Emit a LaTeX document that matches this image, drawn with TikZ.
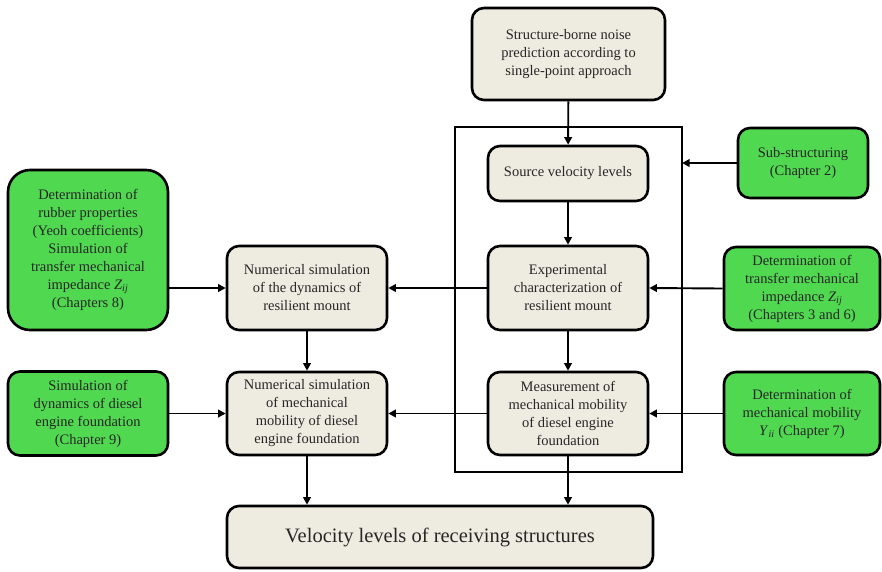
\documentclass[tikz,border=0pt]{standalone}
\usepackage{fontspec}
\setmainfont{Liberation Serif}
\usetikzlibrary{arrows.meta}
\definecolor{beige}{HTML}{EEECE1}
\definecolor{lgreen}{HTML}{50D850}
\newcommand{\Zij}{\textit{Z}\textsubscript{\textit{ij}}}
\newcommand{\Yii}{\textit{Y}\textsubscript{\textit{ii}}}
\begin{document}
\begin{tikzpicture}[x=1pt,y=-1pt,
  box/.style={draw=black,line width=2.6pt,rounded corners=12pt,fill=beige,align=center,
    inner sep=2pt,font=\fontsize{14.5}{18}\selectfont,text=black!85},
  gbox/.style={box,fill=lgreen},
  arr/.style={line width=1.9pt,-{Triangle[length=7.5pt,width=7.5pt]}}]
\useasboundingbox (0,0) rectangle (882,571);
\draw[line width=2.2pt] (455,127) rectangle (682,472);
\coordinate (frameR) at (682,163);
\node[box,minimum width=193pt,minimum height=92pt] (top) at (568.5,54) {Structure-borne noise\\prediction according to\\single-point approach};
\node[box,minimum width=160pt,minimum height=55pt] (src) at (568,173.5) {Source velocity levels};
\node[box,minimum width=160pt,minimum height=84pt] (exp) at (568,288) {Experimental\\characterization of\\resilient mount};
\node[box,minimum width=160pt,minimum height=83pt] (meas) at (568,413.5) {Measurement of\\mechanical mobility\\of diesel engine\\foundation};
\node[box,minimum width=160pt,minimum height=84pt] (num1) at (307,288) {Numerical simulation\\of the dynamics of\\resilient mount};
\node[box,minimum width=160pt,minimum height=83pt] (num2) at (307,413.5) {Numerical simulation\\of mechanical\\mobility of diesel\\engine foundation};
\node[box,minimum width=426pt,minimum height=62pt,font=\fontsize{20.5}{24}\selectfont] (bot) at (440,537) {Velocity levels of receiving structures};
\node[gbox,minimum width=160pt,minimum height=160pt,rounded corners=22pt] (gl1) at (88,250) {Determination of\\rubber properties\\(Yeoh coefficients)\\Simulation of\\transfer mechanical\\impedance \Zij\\(Chapters 8)};
\node[gbox,minimum width=160pt,minimum height=84pt] (gl2) at (88,413.5) {Simulation of\\dynamics of diesel\\engine foundation\\(Chapter 9)};
\node[gbox,minimum width=130pt,minimum height=70pt] (gr1) at (803,163) {Sub-structuring\\(Chapter 2)};
\node[gbox,minimum width=156pt,minimum height=83pt] (gr2) at (802,288.5) {Determination of\\transfer mechanical\\impedance \Zij\\(Chapters 3 and 6)};
\node[gbox,minimum width=156pt,minimum height=83pt] (gr3) at (802,413.5) {Determination of\\mechanical mobility\\\Yii\ (Chapter 7)};
\draw[arr] (top) -- (src);
\draw[arr] (src) -- (exp);
\draw[arr] (exp) -- (meas);
\draw[arr] (gr1.west) -- (frameR);
\draw[arr] (gr2.west) -- (exp.east);
\draw[arr] (gr3.west) -- (meas.east);
\draw[arr] (exp.west) -- (num1.east);
\draw[arr] (meas.west) -- (num2.east);
\draw[arr] (gl1.east|-num1) -- (num1.west);
\draw[arr] (gl2.east) -- (num2.west);
\draw[arr] (num1) -- (num2);
\draw[arr] (num2.south) -- (num2.south|-bot.north);
\draw[arr] (meas.south) -- (meas.south|-bot.north);
\end{tikzpicture}
\end{document}
